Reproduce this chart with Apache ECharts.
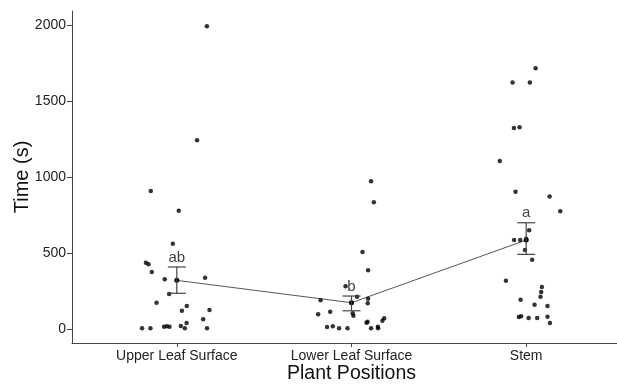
<!DOCTYPE html>
<html>
<head>
<meta charset="utf-8">
<script src="https://cdn.jsdelivr.net/npm/echarts@6/dist/echarts.min.js"></script>
<style>
  html, body {margin: 0; padding: 0; background: #fff;}
  #chart {width: 617px; height: 384px;}
</style>
</head>
<body>
<div id="chart"></div>
<script>
const categories = ['Upper Leaf Surface', 'Lower Leaf Surface', 'Stem'];

// raw times (s) and horizontal jitter (in category units)
const upperTimes = [1991, 1241, 908, 778, 561, 436, 426, 375, 338, 327, 230, 173, 151, 125, 120, 64, 39, 20, 5, 5, 5, 15, 18, 15, 5];
const upperJitter = [0.172, 0.116, -0.149, 0.011, -0.023, -0.177, -0.162, -0.143, 0.162, -0.069, -0.044, -0.116, 0.057, 0.187, 0.029, 0.151, 0.056, 0.023, 0.046, -0.199, -0.151, -0.073, -0.057, -0.042, 0.173];

const lowerTimes = [972, 834, 507, 386, 281, 213, 189, 199, 169, 103, 88, 97, 114, 70, 55, 41, 48, 13, 18, 5, 5, 5, 5, 15];
const lowerJitter = [0.112, 0.128, 0.063, 0.095, -0.034, 0.032, -0.177, 0.095, 0.093, 0.007, 0.011, -0.191, -0.122, 0.187, 0.177, 0.086, 0.092, -0.140, -0.107, -0.071, -0.023, 0.112, 0.152, 0.151];

const stemTimes = [1715, 1621, 1621, 1322, 1327, 1105, 903, 871, 774, 649, 586, 586, 594, 520, 456, 318, 276, 243, 213, 193, 160, 151, 79, 84, 72, 72, 81, 39];
const stemJitter = [0.054, -0.078, 0.021, -0.070, -0.038, -0.151, -0.061, 0.134, 0.195, 0.017, -0.069, -0.034, 0.000, -0.007, 0.034, -0.116, 0.090, 0.086, 0.082, -0.032, 0.048, 0.122, -0.042, -0.029, 0.014, 0.063, 0.122, 0.136];

// group means, error bars and significance letters
const means = [320, 173, 585];
const errLow = [235, 120, 491];
const errHigh = [408, 217, 699];
const letters = ['ab', 'b', 'a'];

const yTicks = [0, 500, 1000, 1500, 2000];

const font = 'Liberation Sans, Arial, sans-serif';

const groups = [[upperTimes, upperJitter], [lowerTimes, lowerJitter], [stemTimes, stemJitter]];
const points = [];
groups.forEach(([t, j], i) => {
  t.forEach((v, k) => points.push([i + 1 + j[k], v]));
});
const meanPts = means.map((m, i) => [i + 1, m]);
const errData = means.map((m, i) => [i + 1, errLow[i], errHigh[i], letters[i]]);

const chart = echarts.init(document.getElementById('chart'));
chart.setOption({
  animation: false,
  grid: {left: 72, right: -14, top: 11, bottom: 41, outerBoundsMode: 'none'},
  xAxis: {
    type: 'value',
    min: 0.4,
    max: 3.6,
    name: 'Plant Positions',
    nameLocation: 'middle',
    nameGap: 21,
    nameMoveOverlap: false,
    nameTextStyle: {fontFamily: font, fontSize: 19.5, color: '#111'},
    splitLine: {show: false},
    axisLine: {onZero: false, lineStyle: {color: '#444', width: 1}},
    axisTick: {customValues: [1, 2, 3], length: 4, lineStyle: {color: '#444'}},
    axisLabel: {
      customValues: [1, 2, 3],
      formatter: v => categories[Math.round(v) - 1],
      fontFamily: font, fontSize: 14, color: '#222', margin: 6
    }
  },
  yAxis: {
    type: 'value',
    min: -92,
    max: 2092,
    name: 'Time (s)',
    nameLocation: 'middle',
    nameGap: 40,
    nameMoveOverlap: false,
    nameTextStyle: {fontFamily: font, fontSize: 20, color: '#111'},
    splitLine: {show: false},
    axisLine: {show: true, onZero: false, lineStyle: {color: '#444', width: 1}},
    axisTick: {show: true, customValues: yTicks, length: 5, lineStyle: {color: '#444'}},
    axisLabel: {customValues: yTicks, formatter: v => String(v), fontFamily: font, fontSize: 14, color: '#222', margin: 6}
  },
  series: [
    {
      type: 'scatter',
      data: points,
      symbolSize: 4.5,
      itemStyle: {color: '#000'},
      z: 3
    },
    {
      type: 'line',
      data: meanPts,
      symbol: 'circle',
      symbolSize: 5,
      itemStyle: {color: '#000'},
      lineStyle: {color: '#555', width: 1},
      z: 2
    },
    {
      type: 'custom',
      data: errData,
      z: 4,
      renderItem(params, api) {
        const x = api.value(0);
        const lo = api.coord([x, api.value(1)]);
        const hi = api.coord([x, api.value(2)]);
        const w = 9;
        const st = {stroke: '#444', lineWidth: 1.2};
        return {
          type: 'group',
          children: [
            {type: 'line', shape: {x1: lo[0], y1: lo[1], x2: hi[0], y2: hi[1]}, style: st},
            {type: 'line', shape: {x1: lo[0] - w, y1: lo[1], x2: lo[0] + w, y2: lo[1]}, style: st},
            {type: 'line', shape: {x1: hi[0] - w, y1: hi[1], x2: hi[0] + w, y2: hi[1]}, style: st},
            {type: 'text', x: hi[0], y: hi[1] - 2, style: {
              text: api.value(3), fill: '#444', font: '15px ' + font,
              align: 'center', verticalAlign: 'bottom'
            }}
          ]
        };
      }
    }
  ]
});
</script>
</body>
</html>
